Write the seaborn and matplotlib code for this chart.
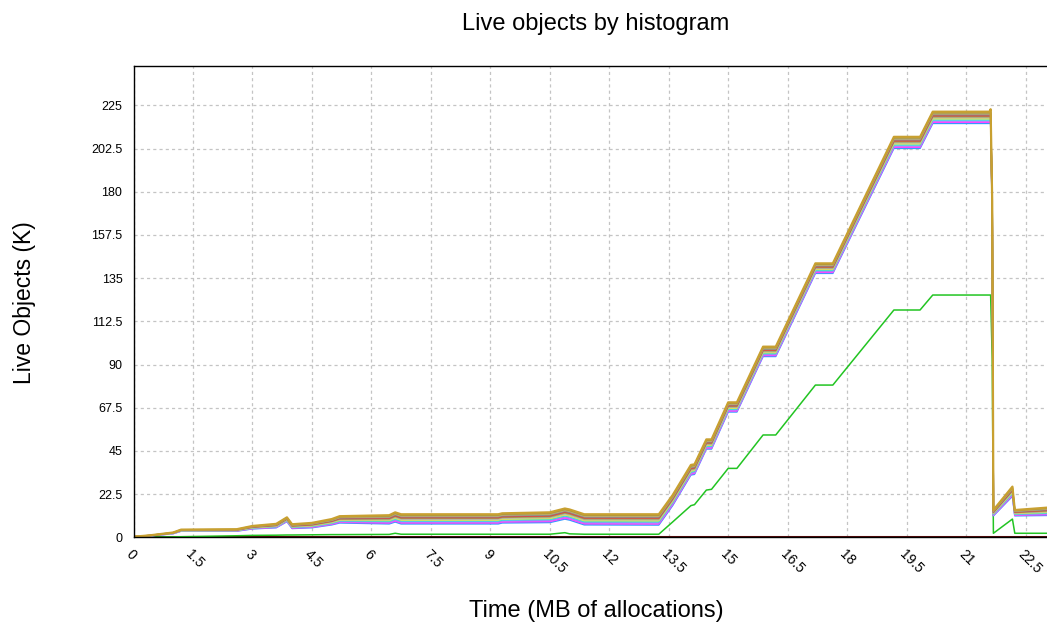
import numpy as np
import pandas as pd
import matplotlib
matplotlib.use("Agg")
import matplotlib.pyplot as plt
import seaborn as sns

# Sample times (MB of allocations)
time_mb = [0.0, 0.4, 1.0, 1.2, 2.6, 3.0, 3.6, 3.87, 4.0, 4.5, 5.0, 5.2, 6.45, 6.6,
           6.75, 9.2, 9.3, 10.5, 10.88, 11.0, 11.37, 13.25, 13.6, 14.06, 14.15, 14.45,
           14.58, 15.0, 15.22, 15.88, 16.2, 17.2, 17.64, 19.18, 19.84, 20.16, 21.59,
           21.62, 21.66, 21.69, 22.17, 22.23, 23.4]

# Largest bucket (all objects), thousands of live objects
top_k = [0.3, 1.0, 2.5, 4.0, 4.2, 5.9, 7.0, 10.4, 6.8, 7.5, 9.5, 11.0, 11.5, 13.0,
         12.0, 12.0, 12.5, 13.0, 15.0, 14.5, 12.0, 12.0, 22.0, 37.7, 38.0, 51.0,
         51.0, 70.3, 70.3, 99.3, 99.3, 142.7, 142.7, 208.6, 208.6, 221.7, 221.7,
         223.0, 175.0, 14.2, 26.4, 14.2, 16.0]

# Gap between the largest and the smallest of the upper buckets
spread_k = [0.0, 0.3, 0.6, 0.8, 1.0, 1.5, 2.0, 2.2, 2.2, 2.5, 3.0, 3.5, 4.5, 5.0,
            5.0, 5.0, 5.0, 5.3, 5.5, 5.5, 5.5, 5.6, 5.4, 5.2, 5.2, 5.0, 5.0, 5.0,
            5.0, 5.1, 5.1, 5.2, 5.2, 6.0, 6.0, 6.1, 6.1, 6.1, 5.0, 3.0, 5.0, 3.0, 4.5]

# Smallest bucket
small_k = [0.0, 0.1, 0.2, 0.3, 0.8, 1.0, 1.1, 1.2, 1.2, 1.3, 1.4, 1.4, 1.5, 2.1,
           1.6, 1.6, 1.6, 1.6, 2.4, 1.8, 1.6, 1.6, 8.0, 16.5, 17.0, 24.6, 25.0, 35.9,
           35.9, 53.3, 53.3, 79.3, 79.3, 118.4, 118.4, 126.2, 126.2, 126.2, 93.0,
           2.1, 9.5, 2.1, 2.1]

# Upper buckets, lowest to highest, with their level on the 221.7K plateau
bucket_names = ["b03", "b04", "b05", "b06", "b07", "b08", "b09", "b10", "b11",
                "b12", "b13", "b14"]
plateau_levels = [215.6, 216.2, 216.8, 217.4, 218.0, 218.6, 219.1, 219.6, 220.1,
                  220.6, 221.1, 221.7]
bucket_colors = ["#3399ff", "#ff44ff", "#c070ff", "#30dede", "#e0e050", "#b4b4b4",
                 "#9fa050", "#e04040", "#8a8a8a", "#c0b070", "#a89440", "#c8a030"]

x_ticks = [0, 1.5, 3, 4.5, 6, 7.5, 9, 10.5, 12, 13.5, 15, 16.5, 18, 19.5, 21, 22.5]
x_tick_labels = ["0", "1.5", "3", "4.5", "6", "7.5", "9", "10.5", "12", "13.5",
                 "15", "16.5", "18", "19.5", "21", "22.5"]
y_ticks = [0, 22.5, 45, 67.5, 90, 112.5, 135, 157.5, 180, 202.5, 225]
y_tick_labels = ["0", "22.5", "45", "67.5", "90", "112.5", "135", "157.5", "180",
                 "202.5", "225"]

sns.set_style("white")
plt.rcParams["font.family"] = ["Liberation Sans", "DejaVu Sans"]
plt.rcParams["text.color"] = "black"

t = np.array(time_mb)
top = np.array(top_k)
spread = np.array(spread_k)
full = plateau_levels[-1] - plateau_levels[0]

frames = [pd.DataFrame({"time": t, "live": np.zeros_like(t), "bucket": "b01"}),
          pd.DataFrame({"time": t, "live": small_k, "bucket": "b02"})]
for name, level in zip(bucket_names, plateau_levels):
    share = (plateau_levels[-1] - level) / full
    frames.append(pd.DataFrame({"time": t, "live": top - share * spread,
                                "bucket": name}))
df = pd.concat(frames, ignore_index=True)

order = ["b01", "b02"] + bucket_names
palette = dict(zip(order, ["#5a0c0c", "#22c422"] + bucket_colors))
widths = {name: 1.1 for name in order}
widths["b01"] = 2.2
widths[bucket_names[-1]] = 1.6

W, H = 1047, 628
fig = plt.figure(figsize=(W / 100, H / 100), dpi=100)
left, right, top_px, bottom_px = 133.5, 1060.0, 66.0, 537.3
ax = fig.add_axes([left / W, 1 - bottom_px / H, (right - left) / W,
                   (bottom_px - top_px) / H])

sns.lineplot(data=df, x="time", y="live", hue="bucket", hue_order=order,
             palette=palette, estimator=None, sort=False, legend=False, ax=ax,
             linewidth=1.1)
for line, name in zip(ax.get_lines(), order):
    line.set_linewidth(widths[name])

ax.set_xlim(0, 23.37)
ax.set_ylim(0, 245.5)
ax.set_xticks(x_ticks)
ax.set_xticklabels(x_tick_labels, rotation=-45, ha="left", va="top",
                   rotation_mode="anchor", fontsize=10)
ax.set_yticks(y_ticks)
ax.set_yticklabels(y_tick_labels, fontsize=9)
ax.tick_params(axis="both", direction="in", length=8, width=1, color="black",
               labelcolor="black")
ax.tick_params(axis="y", pad=8)
ax.tick_params(axis="x", pad=7)
ax.grid(True, color="#c4c4c4", linestyle=(0, (2.5, 2.5)), linewidth=0.9)
for side in ["left", "bottom", "top", "right"]:
    ax.spines[side].set_color("black")
    ax.spines[side].set_linewidth(1.0)
ax.set_xlabel("")
ax.set_ylabel("")

fig.text(596 / W, 1 - 24 / H, "Live objects by histogram", ha="center",
         va="center", fontsize=17, color="black")
fig.text(596 / W, 1 - 611 / H, "Time (MB of allocations)", ha="center",
         va="center", fontsize=17, color="black")
fig.text(25 / W, 1 - 303 / H, "Live Objects (K)", ha="center", va="center",
         rotation=90, fontsize=16.5, color="black")

fig.savefig("out.png", dpi=100)
